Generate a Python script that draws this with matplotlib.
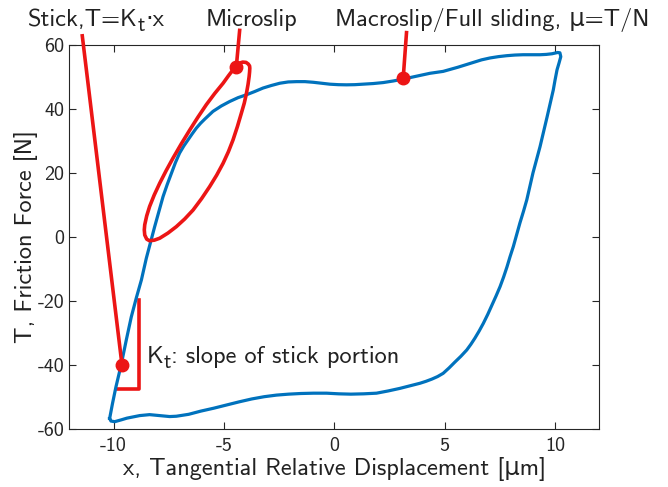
import numpy as np
import matplotlib
matplotlib.use("Agg")
import matplotlib.pyplot as plt
from matplotlib.transforms import offset_copy

plt.rcParams['font.family'] = ['cmss10', 'DejaVu Sans']
plt.rcParams['axes.unicode_minus'] = False

# hysteresis loop (blue)
loop_x = [-10.18, -10.05, -9.90, -9.66, -9.42, -9.20, -8.97, -8.74, -8.52, -8.34,
          -8.14, -7.95, -7.76, -7.57, -7.38, -7.20, -7.01, -6.82, -6.63, -6.44,
          -6.25, -6.06, -5.87, -5.50, -5.12, -4.74, -4.36, -3.98, -3.61, -3.23,
          -2.85, -2.47, -2.09, -1.71, -1.33, -0.96, -0.58, -0.20, 0.18, 0.55,
          0.93, 1.31, 1.76, 2.21, 2.67, 3.12, 3.72, 4.33, 4.93, 5.60,
          6.29, 6.67, 7.06, 7.43, 7.81, 8.18, 8.55, 8.94, 9.32, 9.60,
          9.86, 10.12, 10.22, 10.26, 10.18, 10.09, 10.00, 9.92, 9.78, 9.64,
          9.48, 9.32, 9.16, 9.00, 8.86, 8.72, 8.57, 8.41, 8.26, 8.11,
          7.96, 7.82, 7.67, 7.51, 7.33, 7.14, 6.95, 6.75, 6.56, 6.37,
          6.19, 6.00, 5.73, 5.46, 5.20, 4.93, 4.68, 4.42, 4.15, 3.88,
          3.43, 2.97, 2.44, 1.91, 1.33, 0.75, 0.20, -0.35, -0.94, -1.52,
          -2.07, -2.62, -3.18, -3.74, -4.31, -4.89, -5.47, -6.05, -6.60, -7.16,
          -7.46, -7.91, -8.37, -8.82, -9.12, -9.40, -9.64, -9.95, -10.12, -10.18]
loop_y = [-56.7, -52.0, -47.0, -40.0, -32.0, -25.0, -19.0, -13.4, -6.7, -2.0,
          3.2, 7.9, 12.6, 16.4, 19.9, 23.2, 26.2, 28.4, 30.3, 32.2,
          34.0, 35.5, 36.8, 39.2, 40.9, 42.3, 43.5, 44.4, 45.4, 46.5,
          47.3, 48.0, 48.4, 48.5, 48.5, 48.3, 48.0, 47.7, 47.55, 47.5,
          47.55, 47.7, 47.9, 48.2, 48.7, 49.3, 50.2, 51.1, 51.7, 53.0,
          54.5, 55.3, 55.9, 56.3, 56.6, 56.8, 56.9, 56.9, 56.9, 57.0,
          57.2, 57.6, 57.5, 56.3, 54.3, 52.2, 49.0, 45.9, 41.7, 37.5,
          32.9, 28.2, 24.1, 20.0, 15.8, 11.6, 8.0, 4.4, 0.7, -3.0,
          -6.2, -9.4, -12.5, -15.5, -18.4, -21.3, -24.2, -27.0, -29.4, -31.6,
          -33.5, -35.3, -37.3, -39.1, -40.9, -42.6, -43.6, -44.4, -45.1, -45.7,
          -46.5, -47.3, -48.1, -48.8, -49.0, -49.1, -49.0, -48.8, -48.8, -48.9,
          -49.1, -49.4, -49.9, -50.6, -51.5, -52.5, -53.5, -54.4, -55.4, -56.0,
          -56.1, -55.8, -55.5, -55.8, -56.2, -56.6, -57.1, -57.7, -57.5, -56.7]

# microslip loop (red) with its leader line
micro_x = [-4.29, -4.44, -4.29, -4.15, -4.00, -3.90, -3.84, -3.83, -3.84, -3.86,
           -3.91, -3.98, -4.08, -4.21, -4.39, -4.59, -4.80, -5.04, -5.33, -5.65,
           -6.01, -6.40, -6.78, -7.16, -7.54, -7.91, -8.15, -8.37, -8.50, -8.59,
           -8.61, -8.59, -8.50, -8.37, -8.16, -7.91, -7.62, -7.31, -6.94, -6.55,
           -6.18, -5.80, -5.42, -5.04, -4.80, -4.59, -4.44]
micro_y = [64.5, 53.2, 54.3, 54.6, 54.5, 54.0, 53.4, 52.7, 51.5, 50.1,
           47.6, 44.9, 41.8, 38.7, 34.5, 30.3, 26.6, 23.0, 19.3, 15.7,
           12.0, 8.4, 5.6, 3.2, 1.2, -0.4, -1.0, -1.2, -0.7, 0.6,
           2.2, 3.8, 6.6, 9.5, 13.1, 16.8, 20.7, 24.6, 29.0, 33.4,
           37.4, 41.3, 44.8, 48.0, 50.3, 52.2, 53.2]

stick_x = [-11.42, -9.62]
stick_y = [62.8, -40.0]
macro_x = [3.27, 3.12]
macro_y = [63.8, 49.6]

tri_x = [-9.80, -8.85, -8.85]
tri_y = [-47.6, -47.6, -19.7]

dots_x = [-9.62, -4.44, 3.12]
dots_y = [-40.0, 53.2, 49.6]

blue = '#0072BD'
red = '#EC1515'
FS = 17.5
txt_color = '#222222'

fig = plt.figure(figsize=(6.68, 4.87), dpi=100)
ax = fig.add_axes([0.104, 0.119, 0.793, 0.789])

ax.plot(loop_x, loop_y, color=blue, lw=2.3, solid_joinstyle='round', zorder=2)
ax.plot(micro_x, micro_y, color=red, lw=2.6, solid_joinstyle='round', clip_on=False, zorder=3)
ax.plot(stick_x, stick_y, color=red, lw=2.6, clip_on=False, zorder=3)
ax.plot(macro_x, macro_y, color=red, lw=2.6, clip_on=False, zorder=3)
ax.plot(tri_x, tri_y, color=red, lw=2.6, zorder=1)
ax.plot(dots_x, dots_y, 'o', color=red, ms=9, zorder=4)

ax.set_xlim(-12, 12)
ax.set_ylim(-60, 60)
ax.set_xticks([-10, -5, 0, 5, 10])
ax.set_yticks([-60, -40, -20, 0, 20, 40, 60])
ax.tick_params(direction='in', top=True, right=True, length=5, width=0.8,
               labelsize=14.5, colors='#262626')
ax.tick_params(axis='x', pad=6)
for s in ax.spines.values():
    s.set_linewidth(0.8)
    s.set_color('#262626')

ax.set_xlabel('x, Tangential Relative Displacement [\u03bcm]', fontsize=FS,
              labelpad=1.5, color=txt_color)
ax.set_ylabel('T, Friction Force [N]', fontsize=FS, labelpad=0, color=txt_color)

renderer = fig.canvas.get_renderer()


# text made of pieces so the subscript t keeps nearly full size
def rich_text(x, y, pieces, ha='left'):
    placed = []
    dx = 0.0
    for s, scale, dy in pieces:
        tr = offset_copy(ax.transData, fig=fig, x=dx, y=dy, units='dots')
        t = ax.text(x, y, s, fontsize=FS * scale, transform=tr, va='baseline',
                    ha='left', clip_on=False, color=txt_color)
        placed.append((t, dx, dy))
        dx += t.get_window_extent(renderer).width
    if ha == 'center':
        for t, x0, dy in placed:
            t.set_transform(offset_copy(ax.transData, fig=fig, x=x0 - dx / 2, y=dy, units='dots'))


rich_text(-10.8, 65.9, [('Stick,T=K', 1, 0), ('t', 0.85, -5), ('\u22c5x', 1, 0)], ha='center')
rich_text(-3.74, 65.9, [('Microslip', 1, 0)], ha='center')
rich_text(7.14, 65.9, [('Macroslip/Full sliding, \u03bc=T/N', 1, 0)], ha='center')
rich_text(-8.5, -39.4, [('K', 1, 0), ('t', 0.85, -5), (': slope of stick portion', 1, 0)])

fig.savefig('out.png', dpi=100)
